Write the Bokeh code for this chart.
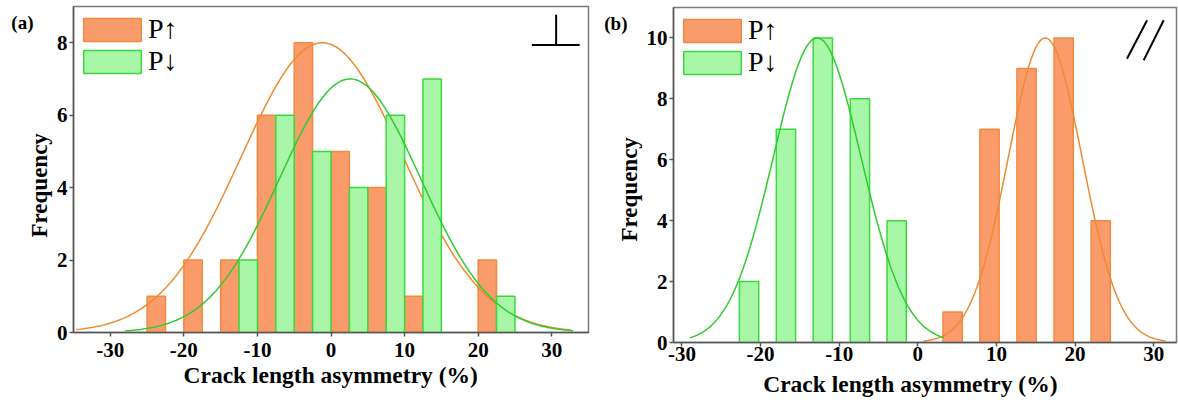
import numpy as np
from bokeh.plotting import figure
from bokeh.layouts import row, column
from bokeh.models import Range1d, FixedTicker, Legend, LegendItem, Title, LinearAxis
from bokeh.embed import file_html
from bokeh.resources import INLINE

# ---------------- data: panel (a) ----------------
a_bin_left = [-25, -20, -15, -10, -5, 0, 5, 10, 15, 20]
a_up_counts = [1, 2, 2, 6, 8, 5, 4, 1, 0, 2]
a_down_counts = [0, 0, 2, 6, 5, 4, 6, 7, 0, 1]
a_bin_width = 5
# fitted normal curves (mean, sd, peak height, drawn extent)
a_up_fit = dict(mean=-1.2, sd=11.0, peak=8.0, x0=-34.6, x1=32.6)
a_down_fit = dict(mean=2.6, sd=9.6, peak=7.0, x0=-28.0, x1=32.9)

# ---------------- data: panel (b) ----------------
b_up_centers = [4.43, 9.12, 13.83, 18.55, 23.26]
b_up_counts = [1, 7, 9, 10, 4]
b_down_centers = [-21.46, -16.77, -12.08, -7.36, -2.69]
b_down_counts = [2, 7, 10, 8, 4]
b_bar_width = 2.45
b_up_fit = dict(mean=16.2, sd=4.7, peak=10.0, x0=0.7, x1=31.5)
b_down_fit = dict(mean=-12.8, sd=5.6, peak=10.0, x0=-29.0, x1=3.3)

x_ticks = [-30, -20, -10, 0, 10, 20, 30]
a_y_ticks = [0, 2, 4, 6, 8]
b_y_ticks = [0, 2, 4, 6, 8, 10]

labels = ["P\u2191", "P\u2193"]
x_title = "Crack length asymmetry (%)"
y_title = "Frequency"

# ---------------- styles ----------------
UP_FILL, UP_LINE, UP_CURVE = "#F99B6A", "#F08A40", "#EE8A30"
DN_FILL, DN_LINE, DN_CURVE = "#A8F7A8", "#3BD83B", "#2ECC2E"
FONT = "Liberation Serif"


def fit_curve(f, n=300):
    xs = np.linspace(f["x0"], f["x1"], n)
    ys = f["peak"] * np.exp(-0.5 * ((xs - f["mean"]) / f["sd"]) ** 2)
    return xs, ys


def text_axis(p, side, where, text, size, standoff):
    """An axis without line/ticks whose single tick label carries a text."""
    ax = LinearAxis(ticker=FixedTicker(ticks=[where]),
                    major_label_overrides={where: text},
                    axis_line_alpha=0, major_tick_line_alpha=0,
                    major_tick_in=0, major_tick_out=0,
                    minor_tick_in=0, minor_tick_out=0,
                    major_label_standoff=standoff,
                    major_label_text_font=FONT, major_label_text_font_size=size,
                    major_label_text_font_style="bold", major_label_text_color="black")
    p.add_layout(ax, side)


def make_fig(width, mleft, mright, mtop, mbottom, xr, yr, yticks, xstand):
    p = figure(width=width, height=403, x_range=Range1d(*xr), y_range=Range1d(*yr),
               output_backend="svg", toolbar_location=None,
               min_border_left=mleft, min_border_right=mright,
               min_border_top=mtop, min_border_bottom=mbottom)
    p.grid.visible = False
    p.outline_line_color = "#7A7A7A"
    p.outline_line_width = 1.5
    p.background_fill_color = "white"
    p.border_fill_color = "white"
    for ax, ticks in ((p.xaxis, x_ticks), (p.yaxis, yticks)):
        ax.ticker = FixedTicker(ticks=ticks)
        ax.major_label_overrides = {t: str(t) for t in ticks}
        ax.major_label_text_font = FONT
        ax.major_label_text_font_style = "bold"
        ax.major_label_text_font_size = "21px"
        ax.major_label_text_color = "black"
        ax.major_tick_out = 4
        ax.major_tick_in = 0
        ax.minor_tick_out = 0
        ax.minor_tick_in = 0
        ax.axis_line_color = "#555555"
        ax.axis_line_width = 1.5
        ax.major_tick_line_color = "#555555"
        ax.major_tick_line_width = 1.5
    p.xaxis.major_label_standoff = xstand
    p.yaxis.major_label_standoff = 2
    return p


def add_legend(p, r_up, r_dn):
    lg = Legend(items=[LegendItem(label=labels[0], renderers=[r_up]),
                       LegendItem(label=labels[1], renderers=[r_dn])],
                location="top_left", margin=3, padding=0, spacing=0,
                glyph_width=72, glyph_height=29, label_standoff=0,
                label_text_font=FONT, label_text_font_size="28px",
                label_text_color="black",
                title=" ", title_text_font_size="2px", title_standoff=2,
                border_line_alpha=0, background_fill_alpha=0)
    p.add_layout(lg)


# ---------------- panel (a) ----------------
pa = make_fig(598, 73, 10, 6, 71, (-35, 35), (0, 9), a_y_ticks, 6)
up_x = [l + a_bin_width * 0.25 for l, c in zip(a_bin_left, a_up_counts) if c > 0]
up_h = [c for c in a_up_counts if c > 0]
dn_x = [l + a_bin_width * 0.75 for l, c in zip(a_bin_left, a_down_counts) if c > 0]
dn_h = [c for c in a_down_counts if c > 0]
ra_up = pa.vbar(x=up_x, top=up_h, bottom=0, width=a_bin_width / 2,
                fill_color=UP_FILL, line_color=UP_LINE, line_width=1.5)
xs, ys = fit_curve(a_up_fit)
pa.line(xs, ys, line_color=UP_CURVE, line_width=1.5)
ra_dn = pa.vbar(x=dn_x, top=dn_h, bottom=0, width=a_bin_width / 2,
                fill_color=DN_FILL, line_color=DN_LINE, line_width=1.5)
xs, ys = fit_curve(a_down_fit)
pa.line(xs, ys, line_color=DN_CURVE, line_width=1.5)
add_legend(pa, ra_up, ra_dn)
# "perpendicular" marker
pa.segment(x0=[30.6, 27.3], y0=[8.77, 7.94], x1=[30.6, 33.8], y1=[7.94, 7.94],
           line_color="black", line_width=2)
pa.add_layout(Title(text=y_title, align="left", text_font=FONT, text_font_size="23px",
                    text_font_style="bold", text_color="black", standoff=3,
                    offset=95), "left")
pa.add_layout(Title(text=x_title, align="left", text_font=FONT, text_font_size="23.5px",
                    text_font_style="bold", text_color="black", standoff=0,
                    offset=110), "below")
text_axis(pa, "left", 8.56, "(a)", "19px", -10)

# ---------------- panel (b) ----------------
pb = make_fig(580, 75, 2, 7, 61, (-31.07, 32.9), (0, 11), b_y_ticks, 0)
rb_up = pb.vbar(x=b_up_centers, top=b_up_counts, bottom=0, width=b_bar_width,
                fill_color=UP_FILL, line_color=UP_LINE, line_width=1.5)
xs, ys = fit_curve(b_up_fit)
pb.line(xs, ys, line_color=UP_CURVE, line_width=1.5)
rb_dn = pb.vbar(x=b_down_centers, top=b_down_counts, bottom=0, width=b_bar_width,
                fill_color=DN_FILL, line_color=DN_LINE, line_width=1.5)
xs, ys = fit_curve(b_down_fit)
pb.line(xs, ys, line_color=DN_CURVE, line_width=1.5)
add_legend(pb, rb_up, rb_dn)
# "parallel" marker
pb.segment(x0=[26.6, 28.73], y0=[9.32, 9.27], x1=[29.16, 31.27], y1=[10.58, 10.58],
           line_color="black", line_width=2)
pb.add_layout(Title(text=y_title, align="left", text_font=FONT, text_font_size="23px",
                    text_font_style="bold", text_color="black", standoff=3,
                    offset=101), "left")
text_axis(pb, "below", -0.95, x_title, "23.5px", 7)
text_axis(pb, "left", 10.46, "(b)", "19px", -14)

layout = row(column(pa), column(pb))
open("out.html", "w").write(file_html(layout, INLINE))
